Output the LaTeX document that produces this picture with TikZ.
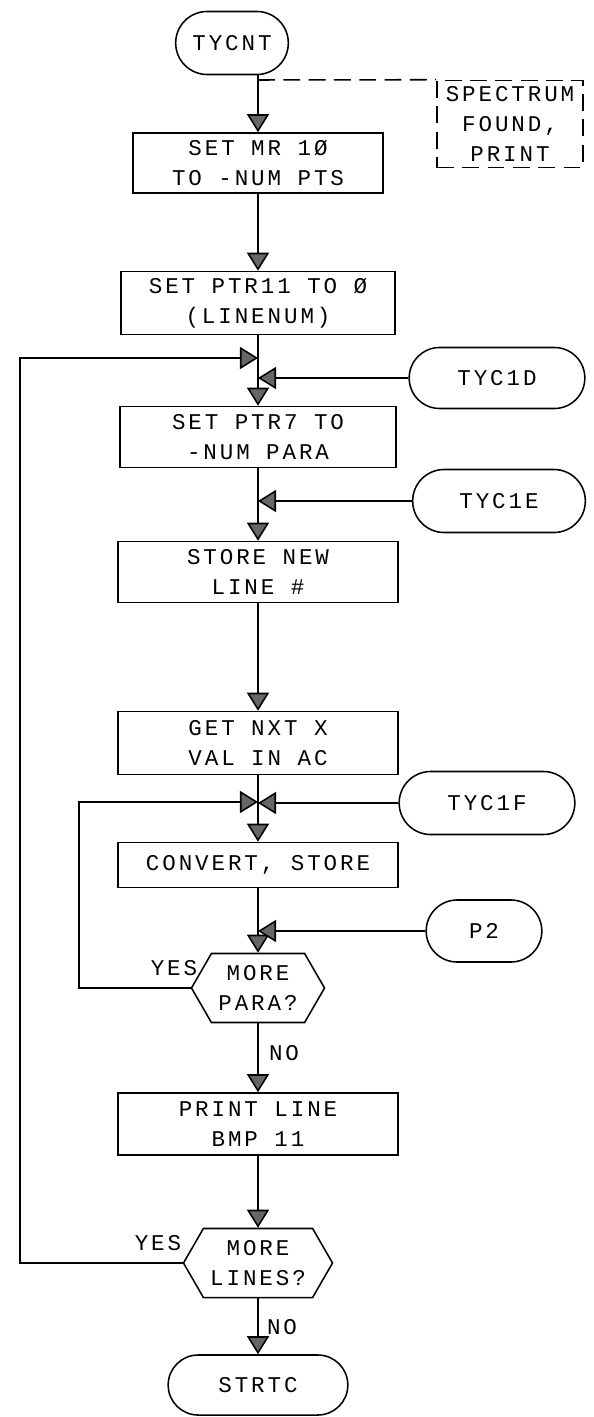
\documentclass[tikz,border=0pt]{standalone}
\usepackage{fontspec}
\newfontfamily\typew[LetterSpace=13]{Liberation Mono}
\usetikzlibrary{arrows.meta,shapes.misc,shapes.symbols}

\tikzset{
  flow/.style={-{Triangle[length=0.45cm,width=0.55cm,fill=black!60]}},
  proc/.style={draw, minimum width=7cm, minimum height=1.55cm, inner sep=2pt, align=center},
  term/.style={draw, rounded rectangle, minimum height=1.575cm, align=center},
  test/.style={draw, signal, signal to=west and east, signal pointer angle=120,
    minimum height=1.725cm, inner sep=1pt, align=center},
  note/.style={draw, dash pattern=on 12pt off 6pt, align=center, minimum width=3.65cm, minimum height=2.175cm}
}

\begin{document}
\begin{tikzpicture}[x=0.025cm, y=-0.025cm, line width=1.1pt,
    font={\typew\fontsize{16}{21.3}\selectfont}]
  \useasboundingbox (0,0) rectangle (593,1417);

  % main column
  \node (tycnt) [term, minimum width=3.05cm] at (232,43) {TYCNT};
  \node (box1) [proc, minimum width=6.25cm, minimum height=1.5cm] at (258,163) {SET MR 1Ø\\TO -NUM PTS};
  \node (box2) [proc, minimum width=6.85cm, minimum height=1.575cm] at (258,303) {SET PTR11 TO Ø\\(LINENUM)};
  \node (box3) [proc, minimum width=6.9cm, minimum height=1.525cm] at (258,437) {SET PTR7 TO\\-NUM PARA};
  \node (box4) [proc, minimum height=1.525cm] at (258,572) {STORE NEW\\LINE \#};
  \node (box5) [proc, minimum height=1.575cm] at (258,743) {GET NXT X\\VAL IN AC};
  \node (box6) [proc, minimum height=1.125cm] at (258,865) {CONVERT, STORE};
  \node (q1) [test, minimum width=3.325cm] at (258,988) {MORE\\PARA?};
  \node (box7) [proc] at (258,1124) {PRINT LINE\\BMP 11};
  \node (q2) [test, minimum width=3.725cm] at (258,1263) {MORE\\LINES?};
  \node (strtc) [term, minimum width=4.725cm, minimum height=1.5cm] at (258,1385) {STRTC};

  % entry points on the right
  \node (note) [note] at (510,124) {SPECTRUM\\FOUND,\\PRINT};
  \node (tyc1d) [term, minimum width=4.625cm, minimum height=1.525cm] at (497,378) {TYC1D};
  \node (tyc1e) [term, minimum width=4.55cm] at (499,501) {TYC1E};
  \node (tyc1f) [term, minimum width=4.625cm] at (487,803) {TYC1F};
  \node (p2) [term, minimum width=3.125cm, minimum height=1.55cm] at (484,931) {P2};

  \node (yes1) at (174,968) {YES};
  \node (no1) at (284,1053) {NO};
  \node (yes2) at (158,1243) {YES};
  \node (no2) at (282,1327) {NO};

  \coordinate (tap) at (258,80);
  \coordinate (c1) at (20,358);
  \coordinate (m1) at (258,358);
  \coordinate (c2) at (79,802);
  \coordinate (m2) at (258,802);

  \draw[flow] (tycnt.south -| box1.north) -- (box1.north);
  \draw[dash pattern=on 12pt off 6pt] (tap) -- (note.north west);
  \draw[flow] (box1.south) -- (box2.north);
  \draw[flow] (box2.south) -- (box3.north);
  \draw[flow] (box3.south) -- (box4.north);
  \draw[flow] (box4.south) -- (box5.north);
  \draw[flow] (box5.south) -- (box6.north);
  \draw[flow] (box6.south) -- (q1.north);
  \draw[flow] (q1.south) -- (box7.north);
  \draw[flow] (box7.south) -- (q2.north);
  \draw[flow] (q2.south) -- (strtc.north);

  % loops back and side entries
  \draw[flow] (q2.west) -| (c1) -- (m1);
  \draw[flow] (tyc1d.west) -- (tyc1d.west -| box3.north);
  \draw[flow] (tyc1e.west) -- (tyc1e.west -| box4.north);
  \draw[flow] (q1.west) -| (c2) -- (m2);
  \draw[flow] (tyc1f.west) -- (tyc1f.west -| m2);
  \draw[flow] (p2.west) -- (p2.west -| q1.north);
\end{tikzpicture}
\end{document}
